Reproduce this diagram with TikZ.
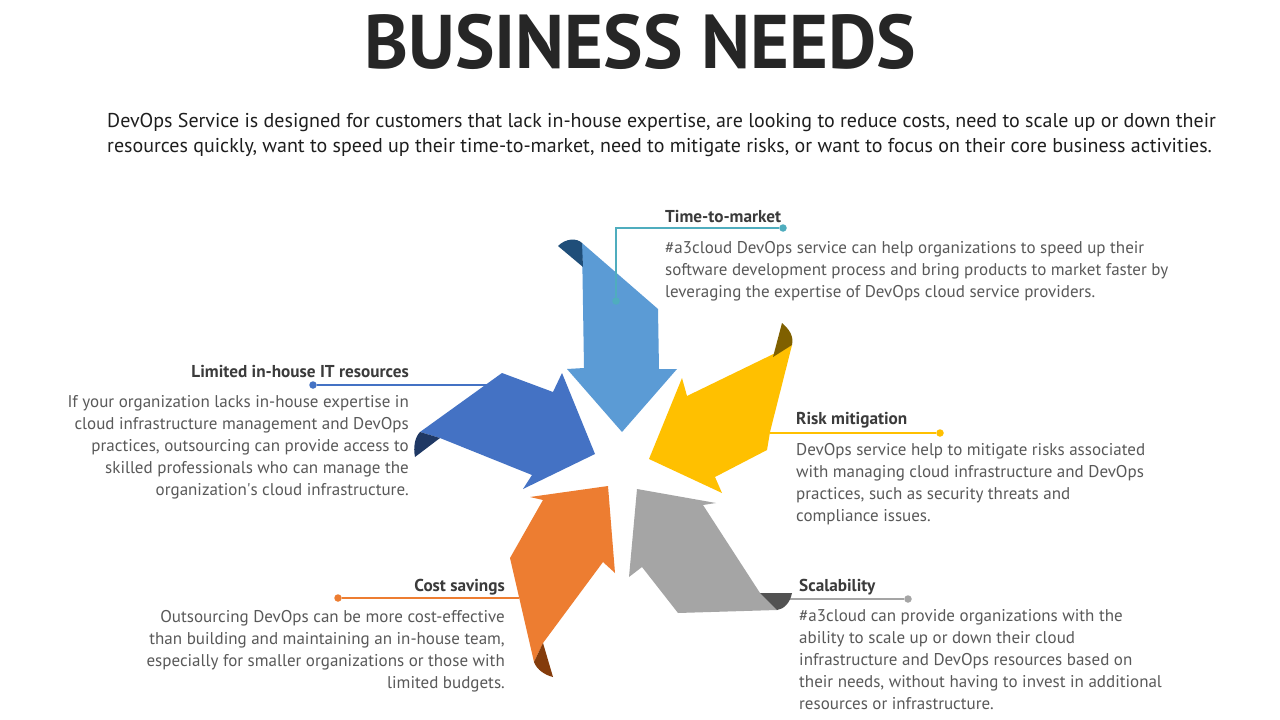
\documentclass[tikz,border=0pt]{standalone}
\usepackage{fontspec}
\setmainfont{PT Sans}
\usepackage{graphicx}
\usepackage{tikz}
\usetikzlibrary{positioning}

\definecolor{titlegray}{HTML}{262626}
\definecolor{leadgray}{HTML}{1E1E1E}
\definecolor{headgray}{HTML}{3B3B3B}
\definecolor{bodygray}{HTML}{595959}
\definecolor{tmblue}{HTML}{5B9BD5}
\definecolor{tmflap}{HTML}{1F4E79}
\definecolor{tmteal}{HTML}{4FADBE}
\definecolor{rmyellow}{HTML}{FFC000}
\definecolor{rmflap}{HTML}{7F6000}
\definecolor{scgray}{HTML}{A5A5A5}
\definecolor{scflap}{HTML}{525252}
\definecolor{csorange}{HTML}{ED7D31}
\definecolor{csflap}{HTML}{843C0C}
\definecolor{lirblue}{HTML}{4472C4}
\definecolor{lirflap}{HTML}{1F3864}

\begin{document}
\begin{tikzpicture}[
    x=1pt, y=-1pt,
    every node/.style={inner sep=0pt, font=\fontsize{17}{22}\selectfont, text=bodygray},
    heading/.style={font=\fontsize{17.2}{20}\selectfont\bfseries, text=headgray},
    body/.style={font=\fontsize{17}{22}\selectfont},
    dot/.style={circle, fill=#1, minimum size=7.5pt},
    link/.style={draw=#1, line width=1.3pt}
]
\useasboundingbox[fill=white] (0,0) rectangle (1280,720);

% Titre et introduction
\node[anchor=base, text=titlegray, font=\fontsize{76}{80}\selectfont\bfseries] (title) at (640,68)
    {\scalebox{0.98}[1]{BUSINESS NEEDS}};
\node[anchor=base west, align=left, text=leadgray, font=\fontsize{20}{25}\selectfont] (lead) at (107,152)
    {DevOps Service is designed for customers that lack in-house expertise, are looking to reduce costs, need to scale up or down their\\
     resources quickly, want to speed up their time-to-market, need to mitigate risks, or want to focus on their core business activities.};

% Liaisons sous les flèches
\node[dot=lirblue] (lirdot) at (313,385) {};
\coordinate (lirend) at (488,385);
\draw[link=lirblue] (lirdot) -- (lirend);
\node[dot=rmyellow] (rmdot) at (940,433) {};
\coordinate (rmend) at (770,433);
\draw[link=rmyellow] (rmend) -- (rmdot);
\node[dot=scgray] (scdot) at (908,599) {};
\coordinate (scend) at (785,599);
\draw[link=scgray] (scend) -- (scdot);
\node[dot=csorange] (csdot) at (338,598) {};
\coordinate (csend) at (519,598);
\draw[link=csorange] (csdot) -- (csend);

% Les cinq flèches
\fill[tmblue] (582,243) -- (658,309) -- (659,369) -- (677,369) -- (622,432) -- (567,369) -- (584,368) -- cycle;
\fill[tmflap] (558,246) .. controls (566,238) and (577,238) .. (582,243) -- (583,267) -- cycle;

\fill[rmyellow] (792,345) -- (770,432) -- (767,450) -- (715,477) -- (722,493) -- (649,459) -- (682,378) -- (687,396) -- cycle;
\fill[rmflap] (773,357) -- (782,323) .. controls (789,329) and (794,336) .. (792,345) -- cycle;

\fill[scgray] (637,489) -- (716,503) -- (703,505) -- (760,593) -- (792,593) -- (777,610) -- (678,613) -- (642,567) -- (629,577) -- cycle;
\fill[scflap] (760,593) -- (792,593) .. controls (790,603) and (784,609) .. (777,610) -- cycle;

\fill[csorange] (530,497) -- (608,486) -- (615,573) -- (603,562) -- (543,643) -- (534,662) -- (510,558) -- (543,500) -- cycle;
\fill[csflap] (543,643) -- (553,677) .. controls (545,675) and (537,670) .. (534,662) -- cycle;

\fill[lirblue] (420,432) -- (502,373) -- (553,392) -- (562,373) -- (595,454) -- (523,489) -- (532,475) -- (440,438) -- cycle;
\fill[lirflap] (440,438) -- (415,457) .. controls (413,447) and (415,437) .. (420,432) -- cycle;

% Time-to-market
\node[dot=tmteal] (tmstart) at (616,301) {};
\node[dot=tmteal] (tmdot) at (783,228) {};
\draw[link=tmteal] (tmstart) |- (tmdot);
\node[heading, anchor=base west] (tmhead) at (665,222) {Time-to-market};
\node[body, align=left, below right=19pt and 0pt of tmhead.base west] (tmtext)
    {\#a3cloud DevOps service can help organizations to speed up their\\
     software development process and bring products to market faster by\\
     leveraging the expertise of DevOps cloud service providers.};

% Risk mitigation
\node[heading, anchor=base west] (rmhead) at (796,424) {Risk mitigation};
\node[body, align=left, below right=19pt and 0pt of rmhead.base west] (rmtext)
    {DevOps service help to mitigate risks associated\\
     with managing cloud infrastructure and DevOps\\
     practices, such as security threats and\\
     compliance issues.};

% Scalability
\node[heading, anchor=base west] (schead) at (799,591) {Scalability};
\node[body, align=left, below right=18pt and 0pt of schead.base west] (sctext)
    {\#a3cloud can provide organizations with the\\
     ability to scale up or down their cloud\\
     infrastructure and DevOps resources based on\\
     their needs, without having to invest in additional\\
     resources or infrastructure.};

% Cost savings
\node[heading, anchor=base east] (cshead) at (505,591) {Cost savings};
\node[body, align=right, below left=19pt and 0pt of cshead.base east] (cstext)
    {Outsourcing DevOps can be more cost-effective\\
     than building and maintaining an in-house team,\\
     especially for smaller organizations or those with\\
     limited budgets.};

% Limited in-house IT resources
\node[heading, anchor=base east] (lirhead) at (409,377) {Limited in-house IT resources};
\node[body, align=right, below left=18pt and 0pt of lirhead.base east] (lirtext)
    {If your organization lacks in-house expertise in\\
     cloud infrastructure management and DevOps\\
     practices, outsourcing can provide access to\\
     skilled professionals who can manage the\\
     organization\textquotesingle s cloud infrastructure.};

\end{tikzpicture}
\end{document}
